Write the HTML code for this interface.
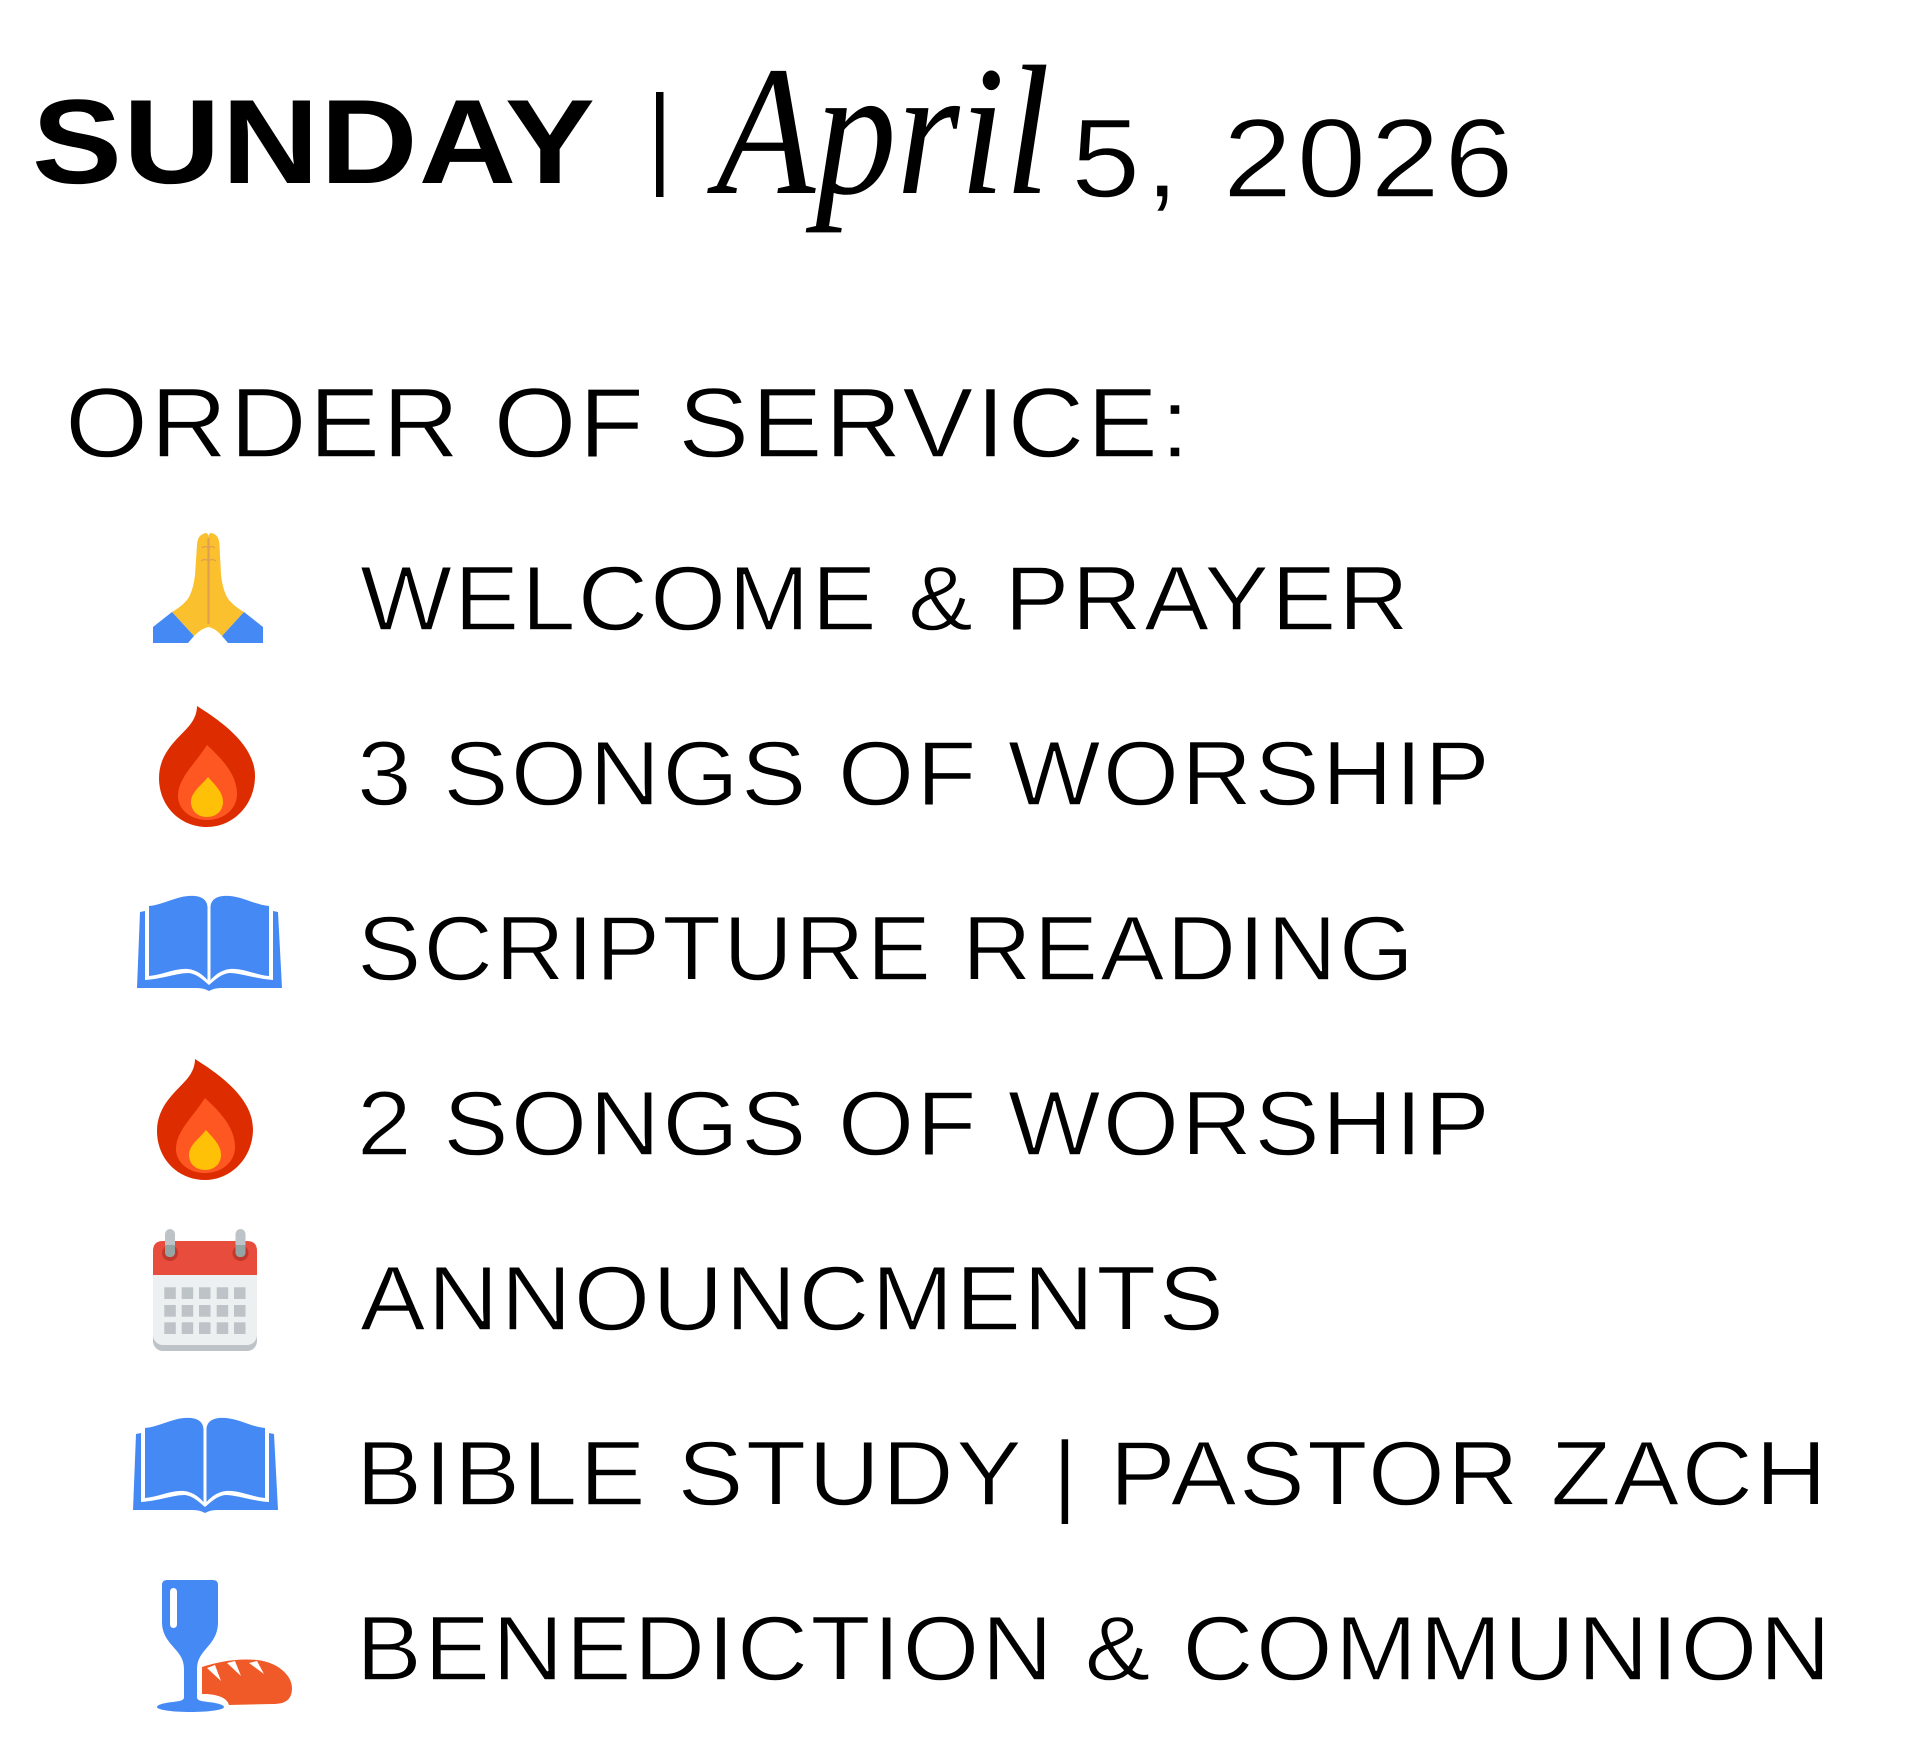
<!DOCTYPE html>
<html>
<head>
<meta charset="utf-8">
<style>
  html, body { margin: 0; padding: 0; background: #fff; }
  body { width: 1920px; height: 1752px; overflow: hidden; position: relative; }
  svg { position: absolute; left: 0; top: 0; display: block; }
  .sans { font-family: "Liberation Sans", "DejaVu Sans", sans-serif; }
  .serif { font-family: "Liberation Serif", "DejaVu Serif", serif; }
  .item { font-size: 92px; fill: #000; stroke: #fff; stroke-width: 1.4px; letter-spacing: 2px; }
</style>
</head>
<body>
<svg width="1920" height="1752" viewBox="0 0 1920 1752" xmlns="http://www.w3.org/2000/svg">
  <rect x="0" y="0" width="1920" height="1752" fill="#fff"/>

  <!-- Header -->
  <text class="sans" x="32" y="183" font-size="120" font-weight="bold" fill="#000" letter-spacing="1" textLength="564" lengthAdjust="spacingAndGlyphs">SUNDAY</text>
  <rect x="656" y="92" width="7.5" height="105" fill="#000"/>
  <text class="serif" x="716" y="193" font-size="185" font-style="italic" fill="#000" textLength="334" lengthAdjust="spacingAndGlyphs">April</text>
  <text class="sans" x="1071" y="197" font-size="112" fill="#000" stroke="#fff" stroke-width="1.4" letter-spacing="4" textLength="447" lengthAdjust="spacingAndGlyphs">5, 2026</text>

  <!-- Title -->
  <text class="sans" x="65" y="457" font-size="99" fill="#000" stroke="#fff" stroke-width="1.4" letter-spacing="2" textLength="1127" lengthAdjust="spacingAndGlyphs">ORDER OF SERVICE:</text>

  <!-- Items -->
  <text class="sans item" x="360" y="630" textLength="1051" lengthAdjust="spacingAndGlyphs">WELCOME &amp; PRAYER</text>
  <text class="sans item" x="357" y="805" textLength="1135" lengthAdjust="spacingAndGlyphs">3 SONGS OF WORSHIP</text>
  <text class="sans item" x="357" y="980" textLength="1059" lengthAdjust="spacingAndGlyphs">SCRIPTURE READING</text>
  <text class="sans item" x="357" y="1155" textLength="1135" lengthAdjust="spacingAndGlyphs">2 SONGS OF WORSHIP</text>
  <text class="sans item" x="360" y="1330" textLength="866" lengthAdjust="spacingAndGlyphs">ANNOUNCMENTS</text>
  <text class="sans item" x="356" y="1505" textLength="1473" lengthAdjust="spacingAndGlyphs">BIBLE STUDY | PASTOR ZACH</text>
  <text class="sans item" x="356" y="1680" textLength="1477" lengthAdjust="spacingAndGlyphs">BENEDICTION &amp; COMMUNION</text>

  <!-- Praying hands -->
  <g>
    <path d="M203,534 Q208,531 208.5,537 Q209,531 214,534 Q219,536 219.5,545 L221,575 Q223,592 229,600 Q235,607 244,612 L222,636 Q215,628 208.5,627 Q202,628 194,636 L172,612 Q181,607 187,600 Q193,592 195,575 L197,545 Q197.5,536 203,534 Z" fill="#FBC02D"/>
    <line x1="208.5" y1="538" x2="208.5" y2="624" stroke="#E0A050" stroke-width="2.2"/>
    <path d="M202,548 Q205,545 208.5,548 Q212,545 215,548" fill="none" stroke="#E0A050" stroke-width="1.2"/>
    <path d="M201,561 Q205,558 208.5,561 Q212,558 216,561" fill="none" stroke="#E0A050" stroke-width="1.2"/>
    <path d="M153,627 L172,612 L194,636 L188,643 L153,643 Z" fill="#4589F5"/>
    <path d="M263,627 L244,612 L222,636 L228,643 L263,643 Z" fill="#4589F5"/>
  </g>

  <!-- Fire 1 -->
  <g transform="translate(159,706)">
    <path d="M38,0 C60,14 96,38 96,70 C96,99 74,121 48,121 C21,121 0,100 0,72 C0,46 20,32 30,20 C36,13 38,6 38,0 Z" fill="#DD2C00"/>
    <path d="M48,39 C62,52 78,68 78,88 C78,103 65,114 48,114 C31,114 19,103 19,90 C19,72 36,58 48,39 Z" fill="#FF5722"/>
    <path d="M49,71 C56,79 64,86 64,96 C64,105 57,111 48,111 C39,111 32,105 32,96 C32,86 42,80 49,71 Z" fill="#FFC107"/>
  </g>
  <!-- Fire 2 -->
  <g transform="translate(157,1059)">
    <path d="M38,0 C60,14 96,38 96,70 C96,99 74,121 48,121 C21,121 0,100 0,72 C0,46 20,32 30,20 C36,13 38,6 38,0 Z" fill="#DD2C00"/>
    <path d="M48,39 C62,52 78,68 78,88 C78,103 65,114 48,114 C31,114 19,103 19,90 C19,72 36,58 48,39 Z" fill="#FF5722"/>
    <path d="M49,71 C56,79 64,86 64,96 C64,105 57,111 48,111 C39,111 32,105 32,96 C32,86 42,80 49,71 Z" fill="#FFC107"/>
  </g>

  <!-- Open book 1 -->
  <g transform="translate(137,895)" fill="#4589F5">
    <path d="M3,17 L0,93 L60,93 Q67,93 72,96 Q77,93 84,93 L145,93 L141,17 L136,16 L136,85 C119,84 104,78 92,78 C84,79 78,85 72,90 C66,85 60,79 52,78 C40,78 25,84 8,85 L8,16 Z"/>
    <path d="M12,11 C25,10 38,2 51,1 C62,0 70,3 70.5,12 L70.5,85 C66,80 60,75 51,74 C38,73 25,80 12,81 Z"/>
    <path d="M132,11 C119,10 106,2 93,1 C82,0 74,3 73.5,12 L73.5,85 C78,80 84,75 93,74 C106,73 119,80 132,81 Z"/>
  </g>

  <!-- Open book 2 -->
  <g transform="translate(133,1417)" fill="#4589F5">
    <path d="M3,17 L0,93 L60,93 Q67,93 72,96 Q77,93 84,93 L145,93 L141,17 L136,16 L136,85 C119,84 104,78 92,78 C84,79 78,85 72,90 C66,85 60,79 52,78 C40,78 25,84 8,85 L8,16 Z"/>
    <path d="M12,11 C25,10 38,2 51,1 C62,0 70,3 70.5,12 L70.5,85 C66,80 60,75 51,74 C38,73 25,80 12,81 Z"/>
    <path d="M132,11 C119,10 106,2 93,1 C82,0 74,3 73.5,12 L73.5,85 C78,80 84,75 93,74 C106,73 119,80 132,81 Z"/>
  </g>

  <!-- Calendar -->
  <g>
    <rect x="153" y="1241" width="104" height="110" rx="10" fill="#BDC3C7"/>
    <rect x="153" y="1241" width="104" height="104" rx="10" fill="#ECF0F1"/>
    <path d="M163,1241 L247,1241 Q257,1241 257,1251 L257,1275 L153,1275 L153,1251 Q153,1241 163,1241 Z" fill="#E74C3C"/>
    <circle cx="170" cy="1253" r="8" fill="#C0392B"/>
    <circle cx="240.5" cy="1253" r="8" fill="#C0392B"/>
    <rect x="165" y="1229" width="10" height="28" rx="5" fill="#BDC3C7"/>
    <rect x="235.5" y="1229" width="10" height="28" rx="5" fill="#BDC3C7"/>
    <path d="M165,1245 L175,1245 L175,1252 Q175,1257 170,1257 Q165,1257 165,1252 Z" fill="#95A5A6"/>
    <path d="M235.5,1245 L245.5,1245 L245.5,1252 Q245.5,1257 240.5,1257 Q235.5,1257 235.5,1252 Z" fill="#95A5A6"/>
    <g fill="#BDC3C7">
      <rect x="164.3" y="1287.3" width="11.5" height="11.7"/>
      <rect x="181.7" y="1287.3" width="11.5" height="11.7"/>
      <rect x="199" y="1287.3" width="11.5" height="11.7"/>
      <rect x="216.7" y="1287.3" width="11.5" height="11.7"/>
      <rect x="234" y="1287.3" width="11.5" height="11.7"/>
      <rect x="164.3" y="1305" width="11.5" height="11.7"/>
      <rect x="181.7" y="1305" width="11.5" height="11.7"/>
      <rect x="199" y="1305" width="11.5" height="11.7"/>
      <rect x="216.7" y="1305" width="11.5" height="11.7"/>
      <rect x="234" y="1305" width="11.5" height="11.7"/>
      <rect x="164.3" y="1322.3" width="11.5" height="11.7"/>
      <rect x="181.7" y="1322.3" width="11.5" height="11.7"/>
      <rect x="199" y="1322.3" width="11.5" height="11.7"/>
      <rect x="216.7" y="1322.3" width="11.5" height="11.7"/>
      <rect x="234" y="1322.3" width="11.5" height="11.7"/>
    </g>
  </g>

  <!-- Communion: chalice + bread -->
  <g transform="translate(157,1580)">
    <path d="M45,87 C60,82 80,78 100,80 C120,82 135,95 135,108 C135,120 128,124 116,124 L72,125 C70,118 62,115 50,114 L45,114 Z" fill="#F05A28"/>
    <polygon points="50,88 58,85 64,101" fill="#fff"/>
    <polygon points="70,83 78,81 84,96" fill="#fff"/>
    <polygon points="92,83 100,81 107,94" fill="#fff"/>
    <path d="M10,0 L56,0 Q61,0 61,5 L61,42 C61,55 55,62 48,70 C42,77 40,82 40,90 L40,117 C40,121 45,121 51,122 C61,123 67,125 67,127 C67,130 51,132 33.5,132 C16,132 0,130 0,127 C0,125 6,123 16,122 C22,121 27,121 27,117 L27,90 C27,82 25,77 19,70 C12,62 5,55 5,42 L5,5 Q5,0 10,0 Z" fill="#4589F5" stroke="#fff" stroke-width="4" paint-order="stroke"/>
    <rect x="13" y="8" width="7" height="40" rx="3.5" fill="#fff"/>
  </g>
</svg>
</body>
</html>
